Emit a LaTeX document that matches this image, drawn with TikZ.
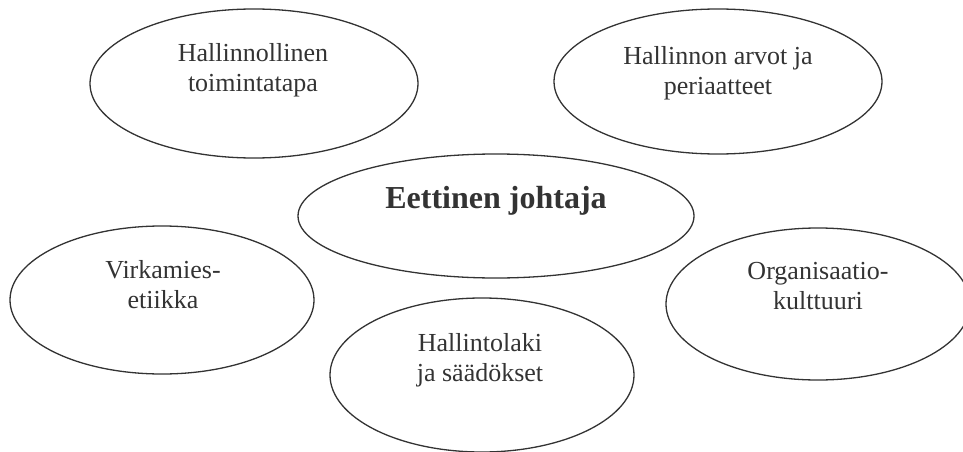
\documentclass[tikz,border=0pt]{standalone}
\usepackage{fontspec}
\setmainfont{Liberation Serif}
\usetikzlibrary{shapes.geometric}
\definecolor{ink}{HTML}{333333}
\tikzset{
  topic/.style={draw=ink, line width=1.3pt, shape=ellipse, inner sep=0pt},
  caption/.style={text=ink, align=center, anchor=base, inner sep=0pt,
    font=\fontsize{26pt}{30pt}\selectfont},
  headline/.style={caption, font=\fontsize{32pt}{36pt}\selectfont\bfseries},
}
\begin{document}
\begin{tikzpicture}[x=1pt, y=-1pt]
  \useasboundingbox (0,0) rectangle (963,452);
  % ellipses
  \node[topic, minimum width=328pt, minimum height=149pt] (e1) at (254,83.5) {};
  \node[topic, minimum width=328pt, minimum height=145pt] (e2) at (718,81.5) {};
  \node[topic, minimum width=396pt, minimum height=124pt] (e3) at (496,216) {};
  \node[topic, minimum width=304pt, minimum height=148pt] (e4) at (162,300) {};
  \node[topic, minimum width=304pt, minimum height=154pt] (e5) at (482,375) {};
  \node[topic, minimum width=304pt, minimum height=152pt] (e6) at (818,304) {};
  % labels (two-line captions are anchored at their lower line)
  \node[caption] (t1) at (253,92) {Hallinnollinen\\toimintatapa};
  \node[caption] (t2) at (718,94) {Hallinnon arvot ja\\periaatteet};
  \node[headline] (t3) at (496,208) {Eettinen johtaja};
  \node[caption] (t4) at (163,308) {Virkamies-\\etiikka};
  \node[caption] (t5) at (480,381) {Hallintolaki\\ja säädökset};
  \node[caption] (t6) at (818,309) {Organisaatio-\\kulttuuri};
\end{tikzpicture}
\end{document}
